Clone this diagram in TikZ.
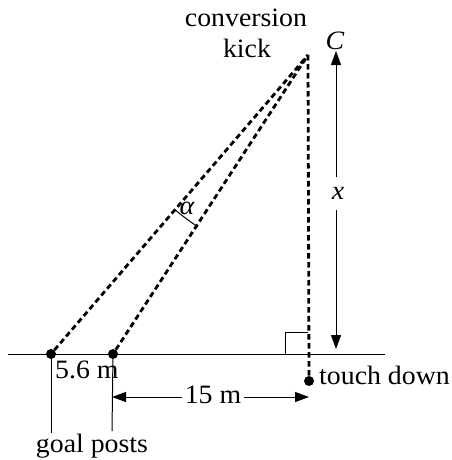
\documentclass[tikz,border=0pt]{standalone}
\usepackage{fontspec}
\setmainfont[FakeStretch=1.05]{Liberation Serif}
\usetikzlibrary{arrows.meta,calc}
\begin{document}
\begin{tikzpicture}[x=1pt,y=-1pt,
  every node/.style={inner sep=0pt,font=\fontsize{26.5}{30}\selectfont},
  dotnode/.style={circle,fill=black,minimum size=10pt,inner sep=0pt},
  dashline/.style={line width=2.8pt,dash pattern=on 5.5pt off 3.5pt},
  thin line/.style={line width=1pt},
  arr/.style={line width=1pt,-{Triangle[length=14pt,width=10pt]}}]
\useasboundingbox (0,0) rectangle (451,460);
% ground line
\coordinate (gl) at (8,354);
\coordinate (gr) at (385,354);
\draw[thin line] (gl) -- (gr);
% points
\node[dotnode] (P1) at (51,354) {};
\node[dotnode] (P2) at (113,354) {};
\coordinate (C) at (308,55);
\node[dotnode] (T) at (309,381) {};
% dashed lines
\draw[dashline] (P1) -- (C);
\draw[dashline] (P2) -- (C);
\draw[dashline] (C) -- (T.north);
% right angle
\coordinate (ra1) at (285,354);
\coordinate (ra2) at (285,332);
\coordinate (ra3) at (308,332);
\draw[thin line] (ra1) -- (ra2) -- (ra3);
% posts
\coordinate (P1b) at (51,433);
\coordinate (P2b) at (112,431);
\draw[thin line] (P1) -- (P1b);
\draw[thin line] (P2) -- (P2b);
% angle alpha
\draw[thin line] ($(C)!204pt!(P1)$) arc[start angle=229.3, end angle=236.9, radius=204pt];
% labels
\node[anchor=base] (conv) at (246,27) {conversion};
\node[anchor=base] (kick) at (247,58) {kick};
\node[anchor=base] (Clab) at (335,50) {\itshape C};
\node[anchor=base] (alab) at (187,214) {\itshape α};
\node[anchor=base west] (fivesix) at (55,378) {5.6 m};
\node[anchor=base west] (td) at (319,384) {touch down};
\node[anchor=base] (gp) at (92,452) {goal posts};
% x arrow
\node (xlab) at (338,193) {\itshape x};
\coordinate (xt) at (336,51);
\coordinate (xb) at (336,349);
\draw[arr] (336,177) -- (xt);
\draw[arr] (336,210) -- (xb);
% 15 m arrow
\node[anchor=base] (fifteen) at (213,403) {15 m};
\coordinate (fl) at (112,397);
\coordinate (fr) at (309,397);
\draw[arr] ([xshift=-3pt]fifteen.west |- fl) -- (fl);
\draw[arr] ([xshift=3pt]fifteen.east |- fr) -- (fr);
\end{tikzpicture}
\end{document}
